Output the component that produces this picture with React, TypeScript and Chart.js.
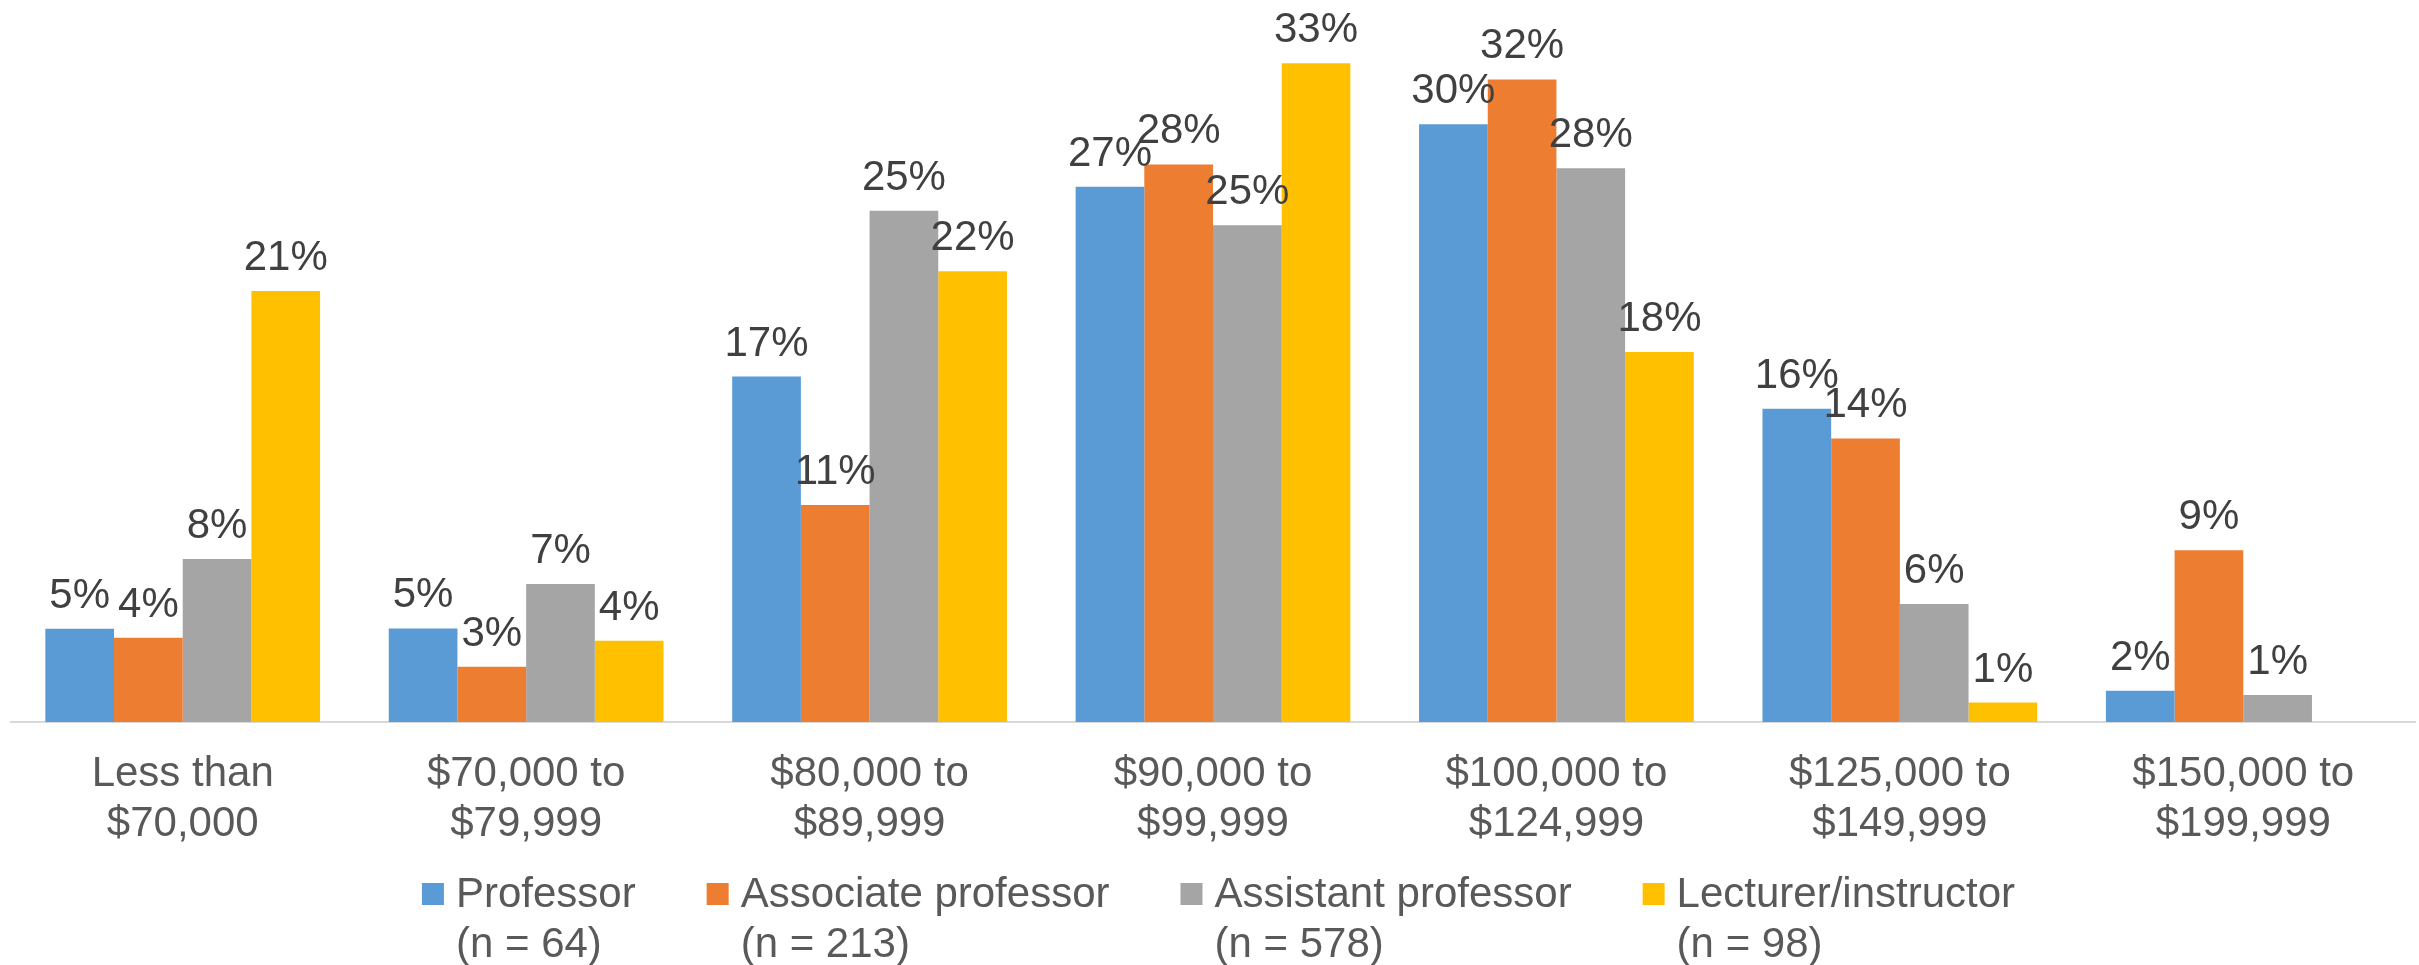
import React, { useEffect, useRef } from "react";
import { Chart, registerables } from "chart.js";

Chart.register(...registerables);

const FONT = '"Liberation Sans", Arial, sans-serif';

const categories: string[][] = [
  ["Less than", "$70,000"],
  ["$70,000 to", "$79,999"],
  ["$80,000 to", "$89,999"],
  ["$90,000 to", "$99,999"],
  ["$100,000 to", "$124,999"],
  ["$125,000 to", "$149,999"],
  ["$150,000 to", "$199,999"],
];

const seriesNames = ["Professor", "Associate professor", "Assistant professor", "Lecturer/instructor"];
const seriesCounts = ["(n = 64)", "(n = 213)", "(n = 578)", "(n = 98)"];
const seriesColors = ["#5B9BD5", "#ED7D31", "#A5A5A5", "#FFC000"];

const professor = [4.64, 4.66, 17.2, 26.65, 29.76, 15.6, 1.55];
const associate = [4.19, 2.75, 10.8, 27.76, 31.99, 14.12, 8.55];
const assistant = [8.12, 6.87, 25.45, 24.73, 27.57, 5.88, 1.34];
const lecturer = [21.46, 4.05, 22.44, 32.8, 18.42, 0.97, 0];

const seriesValues = [professor, associate, assistant, lecturer];

const dataLabelPlugin = {
  id: "dataLabels",
  afterDatasetsDraw(chart: any) {
    const ctx = chart.ctx;
    ctx.save();
    ctx.font = `42px ${FONT}`;
    ctx.fillStyle = "#404040";
    ctx.textAlign = "center";
    ctx.textBaseline = "alphabetic";
    chart.data.datasets.forEach((ds: any, di: number) => {
      const meta = chart.getDatasetMeta(di);
      meta.data.forEach((el: any, i: number) => {
        const v = ds.data[i];
        if (!v) return;
        ctx.fillText(Math.round(v) + "%", el.x, el.y - 21);
      });
    });
    ctx.restore();
  },
};

const legendPlugin = {
  id: "customLegend",
  afterDraw(chart: any) {
    const ctx = chart.ctx;
    ctx.save();
    ctx.font = `42px ${FONT}`;
    const box = 22;
    const gapBT = 12;
    const gapItems = 71;
    const widths = seriesNames.map((n, i) =>
      Math.max(ctx.measureText(n).width, ctx.measureText(seriesCounts[i]).width)
    );
    const total =
      widths.reduce((s, w) => s + box + gapBT + w, 0) + gapItems * (seriesNames.length - 1);
    let x = chart.width / 2 + 9 - total / 2;
    const base1 = chart.height - 58;
    const base2 = chart.height - 8;
    seriesNames.forEach((name, i) => {
      ctx.fillStyle = seriesColors[i];
      ctx.fillRect(x, base1 - 24, box, box);
      ctx.fillStyle = "#595959";
      ctx.textAlign = "left";
      ctx.textBaseline = "alphabetic";
      ctx.fillText(name, x + box + gapBT, base1);
      ctx.fillText(seriesCounts[i], x + box + gapBT, base2);
      x += box + gapBT + widths[i] + gapItems;
    });
    ctx.restore();
  },
};

export default function App() {
  const ref = useRef<HTMLCanvasElement | null>(null);

  useEffect(() => {
    if (!ref.current) return;
    const chart = new Chart(ref.current, {
      type: "bar",
      data: {
        labels: categories,
        datasets: seriesNames.map((name, i) => ({
          label: name,
          data: seriesValues[i],
          backgroundColor: seriesColors[i],
          borderWidth: 0,
          barPercentage: 1,
          categoryPercentage: 0.8,
        })),
      },
      options: {
        responsive: false,
        animation: false,
        devicePixelRatio: 1,
        layout: { padding: { left: 11, right: 4, top: 19, bottom: 89 } },
        plugins: {
          legend: { display: false },
          tooltip: { enabled: false },
        },
        scales: {
          x: {
            grid: { display: false, drawTicks: false },
            border: { display: true, color: "#D9D9D9", width: 2 },
            ticks: {
              color: "#595959",
              font: { family: FONT, size: 42, lineHeight: 50 / 42 },
              padding: 27,
              maxRotation: 0,
              autoSkip: false,
            },
          },
          y: { display: false, min: 0, max: 35 },
        },
      },
      plugins: [dataLabelPlugin, legendPlugin],
    });
    return () => chart.destroy();
  }, []);

  return (
    <div style={{ position: "fixed", left: 0, top: 0, width: 2419, height: 965, background: "#fff" }}>
      <canvas ref={ref} width={2419} height={965} />
    </div>
  );
}
